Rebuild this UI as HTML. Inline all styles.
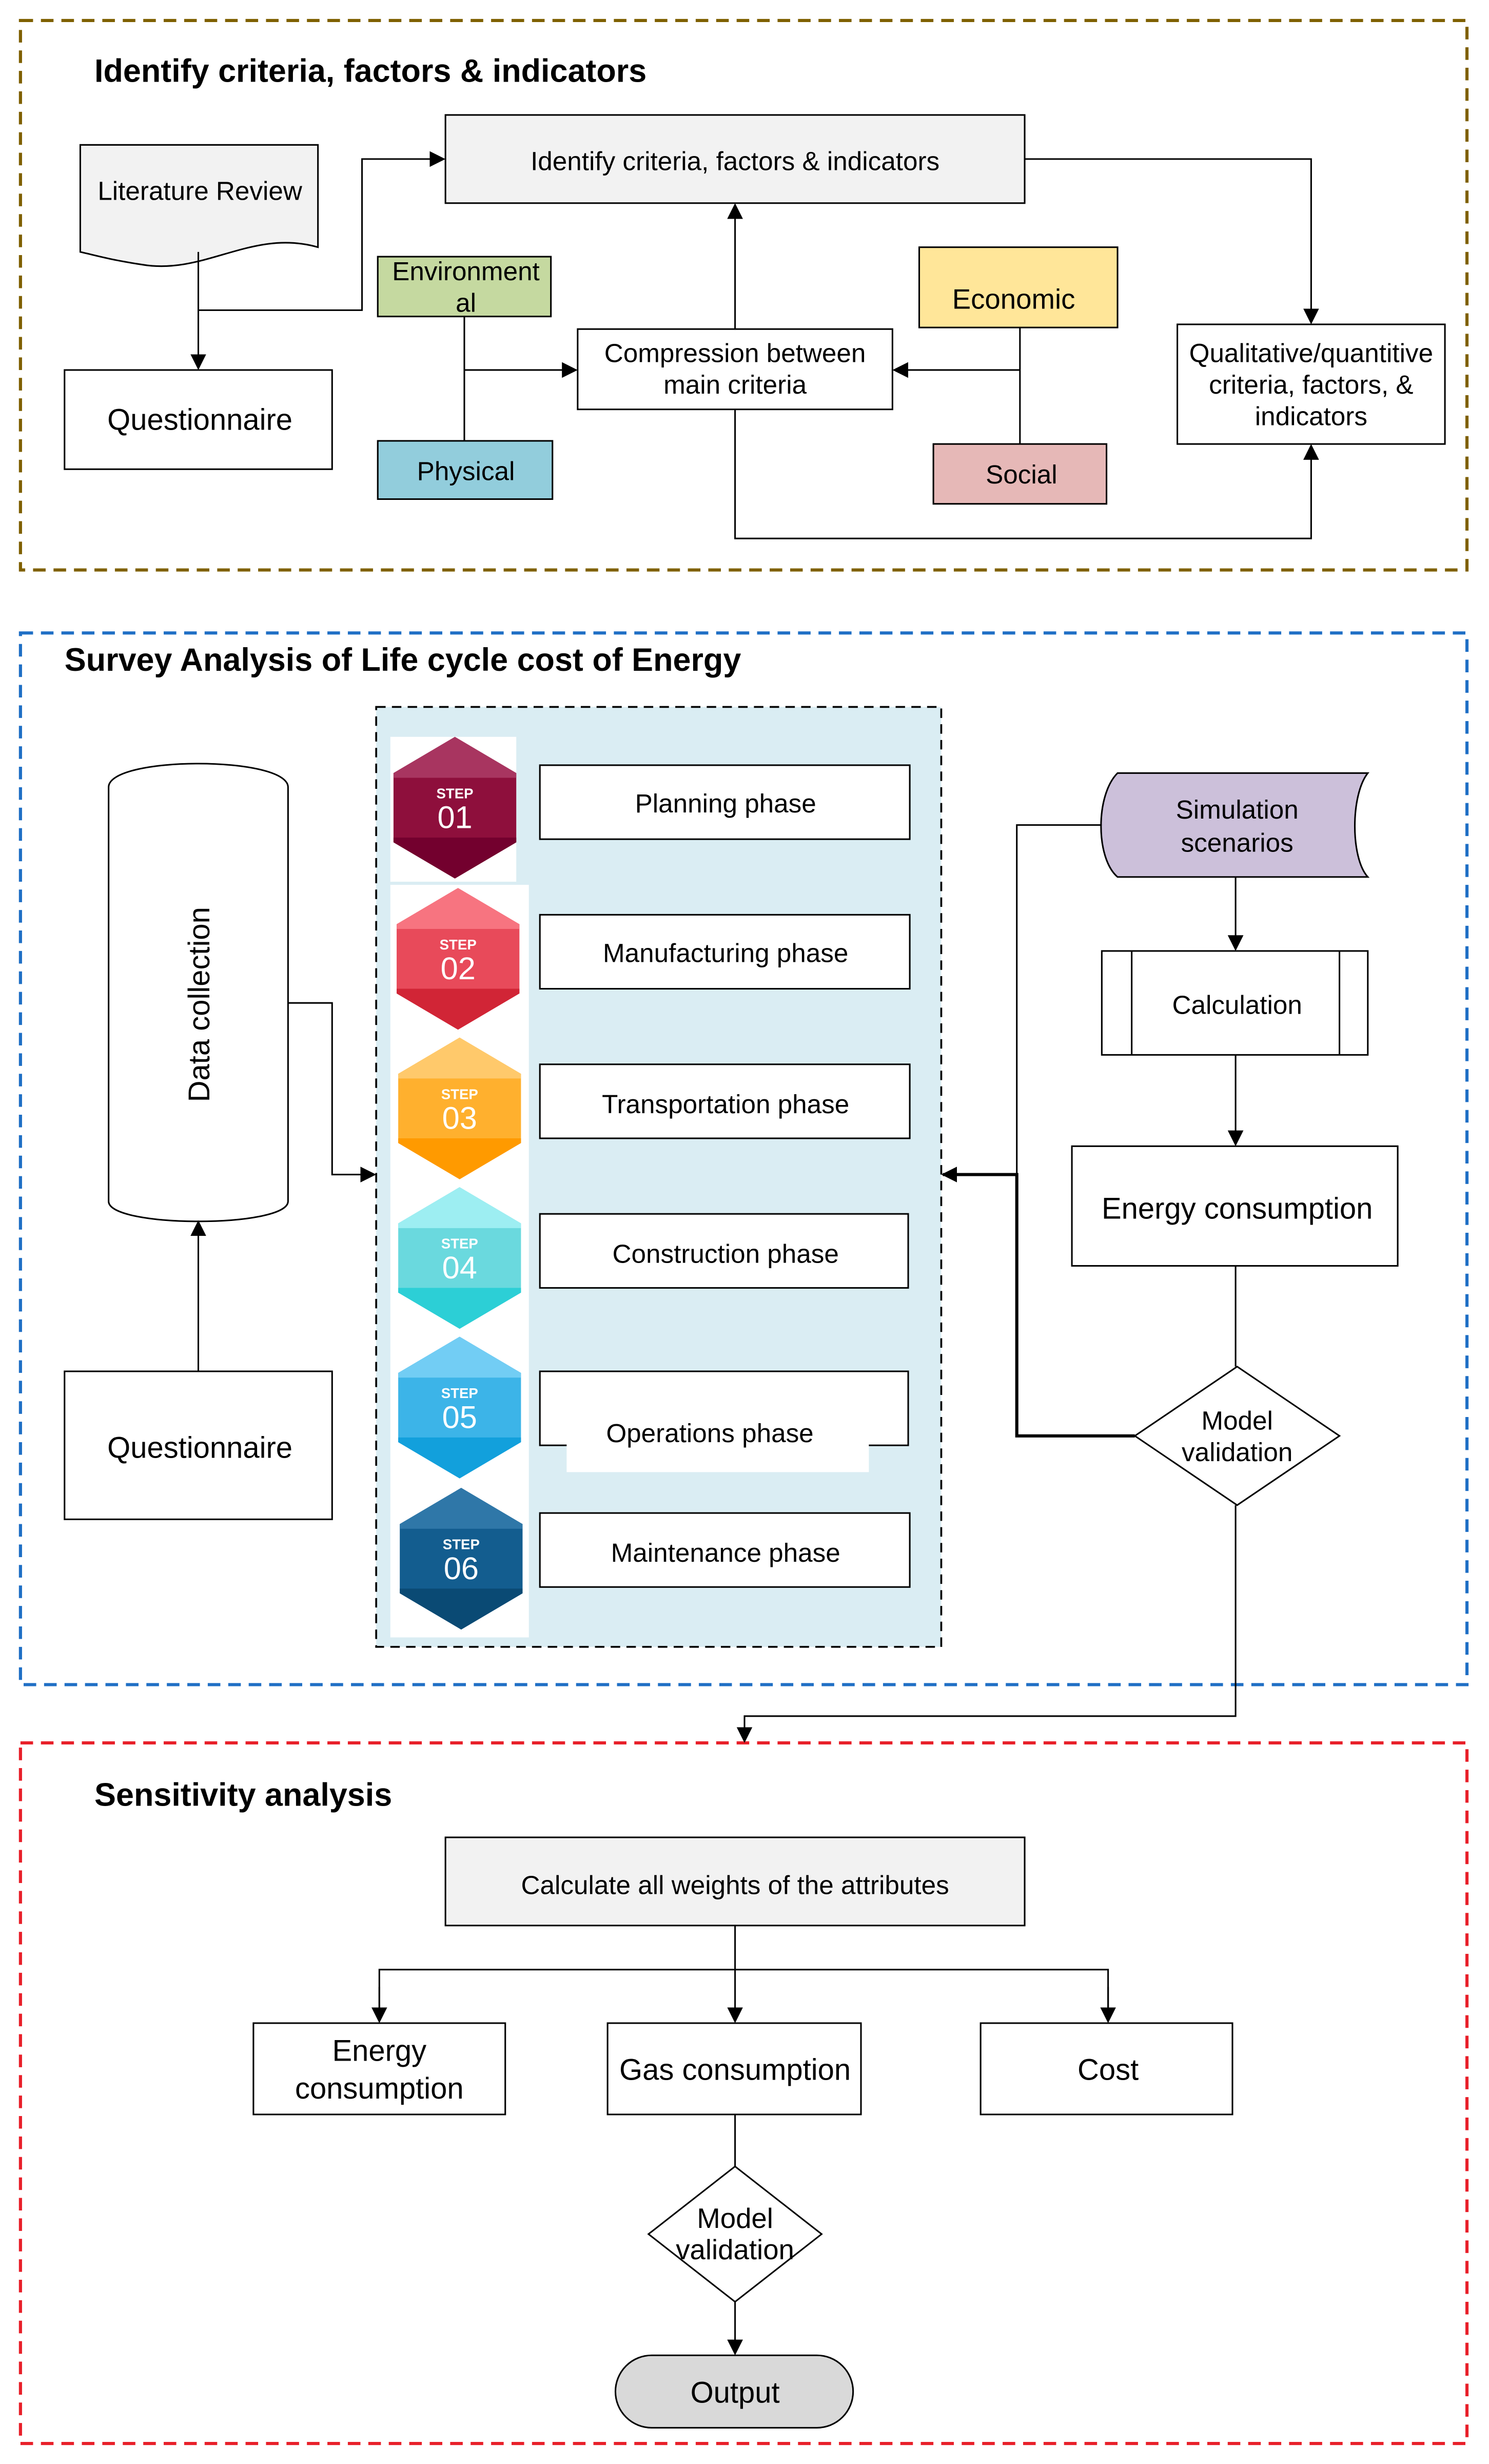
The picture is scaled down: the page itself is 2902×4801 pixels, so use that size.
<!DOCTYPE html>
<html><head><meta charset="utf-8"><style>
html,body{margin:0;padding:0;background:#fff}
svg{display:block}
text{font-family:"Liberation Sans",sans-serif;fill:#000}
</style></head><body>
<svg width="2902" height="4801" viewBox="0 0 946 1565" xmlns="http://www.w3.org/2000/svg">
<defs>
<marker id="a" markerWidth="10" markerHeight="10" refX="9" refY="5" orient="auto" markerUnits="userSpaceOnUse"><path d="M0,0 L10,5 L0,10 z" fill="#000"/></marker>
</defs>
<g fill="none" stroke-width="2" stroke-dasharray="8,5">
<rect x="13" y="13" width="919" height="349" stroke="#7f6000"/>
<rect x="13" y="402" width="919" height="668" stroke="#1f6fc5"/>
<rect x="13" y="1107" width="919" height="445" stroke="#e8202a"/>
</g>
<g font-weight="bold" font-size="20.5">
<text x="60" y="52">Identify criteria, factors &amp; indicators</text>
<text x="41" y="426">Survey Analysis of Life cycle cost of Energy</text>
<text x="60" y="1147">Sensitivity analysis</text>
</g>
<g stroke="#000" stroke-width="1" font-size="15">
<rect x="283" y="73" width="368" height="56" fill="#f2f2f2"/>
<path d="M51,92 H202 V157 C160,145 130,175 90,168 C70,165 60,162 51,160 Z" fill="#f2f2f2"/>
<rect x="41" y="235" width="170" height="63" fill="#fff"/>
<rect x="240" y="163" width="110" height="38" fill="#c5d9a0"/>
<rect x="240" y="280" width="111" height="37" fill="#92cddc"/>
<rect x="367" y="209" width="200" height="51" fill="#fff"/>
<rect x="584" y="157" width="126" height="51" fill="#ffe699"/>
<rect x="593" y="282" width="110" height="38" fill="#e6b8b7"/>
<rect x="748" y="206" width="170" height="76" fill="#fff"/>
<g fill="none">
<path d="M126,160 V234" marker-end="url(#a)"/>
<path d="M126,197 H230 V101 H282" marker-end="url(#a)"/>
<path d="M651,101 H833 V205" marker-end="url(#a)"/>
<path d="M467,209 V130" marker-end="url(#a)"/>
<path d="M295,201 V280"/>
<path d="M295,235 H366" marker-end="url(#a)"/>
<path d="M648,208 V282"/>
<path d="M648,235 H568" marker-end="url(#a)"/>
<path d="M467,260 V342 H833 V283" marker-end="url(#a)"/>
</g>
</g>
<g font-size="16.7" text-anchor="middle">
<text x="467" y="108">Identify criteria, factors &amp; indicators</text>
<text x="127" y="127">Literature Review</text>
<text x="127" y="273" font-size="18.9">Questionnaire</text>
<text x="296" y="178">Environment</text><text x="296" y="198">al</text>
<text x="296" y="305">Physical</text>
<text x="467" y="230">Compression between</text><text x="467" y="250">main criteria</text>
<text x="644" y="196" font-size="17.8">Economic</text>
<text x="649" y="307">Social</text>
<text x="833" y="230">Qualitative/quantitive</text><text x="833" y="250">criteria, factors, &amp;</text><text x="833" y="270">indicators</text>
</g>
<!-- section 2 -->
<rect x="239" y="449" width="359" height="597" fill="#daedf3" stroke="#000" stroke-width="1.2" stroke-dasharray="6,4"/>
<rect x="248" y="468" width="80" height="92" fill="#fff"/>
<rect x="248" y="562" width="88" height="478" fill="#fff"/>
<g text-anchor="middle">
<g transform="translate(289,513)"><polygon points="0,-45 39,-22 39,22 0,45 -39,22 -39,-22" fill="#8e0f3c"/><polygon points="0,-45 39,-22 39,-19 -39,-19 -39,-22" fill="#a83560"/><polygon points="0,45 39,22 39,19 -39,19 -39,22" fill="#73002e"/><text y="-6" font-size="9" font-weight="bold" style="fill:#fff">STEP</text><text y="13" font-size="20" style="fill:#fff">01</text></g>
<g transform="translate(291,609)"><polygon points="0,-45 39,-22 39,22 0,45 -39,22 -39,-22" fill="#e84a5a"/><polygon points="0,-45 39,-22 39,-19 -39,-19 -39,-22" fill="#f77480"/><polygon points="0,45 39,22 39,19 -39,19 -39,22" fill="#d12536"/><text y="-6" font-size="9" font-weight="bold" style="fill:#fff">STEP</text><text y="13" font-size="20" style="fill:#fff">02</text></g>
<g transform="translate(292,704)"><polygon points="0,-45 39,-22 39,22 0,45 -39,22 -39,-22" fill="#ffb02e"/><polygon points="0,-45 39,-22 39,-19 -39,-19 -39,-22" fill="#ffc96b"/><polygon points="0,45 39,22 39,19 -39,19 -39,22" fill="#ff9a00"/><text y="-6" font-size="9" font-weight="bold" style="fill:#fff">STEP</text><text y="13" font-size="20" style="fill:#fff">03</text></g>
<g transform="translate(292,799)"><polygon points="0,-45 39,-22 39,22 0,45 -39,22 -39,-22" fill="#6ad9de"/><polygon points="0,-45 39,-22 39,-19 -39,-19 -39,-22" fill="#9deef2"/><polygon points="0,45 39,22 39,19 -39,19 -39,22" fill="#2ccfd6"/><text y="-6" font-size="9" font-weight="bold" style="fill:#fff">STEP</text><text y="13" font-size="20" style="fill:#fff">04</text></g>
<g transform="translate(292,894)"><polygon points="0,-45 39,-22 39,22 0,45 -39,22 -39,-22" fill="#3cb4e8"/><polygon points="0,-45 39,-22 39,-19 -39,-19 -39,-22" fill="#72cdf4"/><polygon points="0,45 39,22 39,19 -39,19 -39,22" fill="#12a0dc"/><text y="-6" font-size="9" font-weight="bold" style="fill:#fff">STEP</text><text y="13" font-size="20" style="fill:#fff">05</text></g>
<g transform="translate(293,990)"><polygon points="0,-45 39,-22 39,22 0,45 -39,22 -39,-22" fill="#135d8f"/><polygon points="0,-45 39,-22 39,-19 -39,-19 -39,-22" fill="#2f77a8"/><polygon points="0,45 39,22 39,19 -39,19 -39,22" fill="#0a4a74"/><text y="-6" font-size="9" font-weight="bold" style="fill:#fff">STEP</text><text y="13" font-size="20" style="fill:#fff">06</text></g>
</g>
<g stroke="#000" stroke-width="1" fill="#fff">
<rect x="343" y="486" width="235" height="47"/>
<rect x="343" y="581" width="235" height="47"/>
<rect x="343" y="676" width="235" height="47"/>
<rect x="343" y="771" width="234" height="47"/>
<rect x="343" y="871" width="234" height="47"/>
<rect x="343" y="961" width="235" height="47"/>
</g>
<rect x="360" y="890" width="192" height="45" fill="#fff"/>
<g font-size="16.7" text-anchor="middle">
<text x="461" y="516">Planning phase</text>
<text x="461" y="611">Manufacturing phase</text>
<text x="461" y="707">Transportation phase</text>
<text x="461" y="802">Construction phase</text>
<text x="451" y="916">Operations phase</text>
<text x="461" y="992">Maintenance phase</text>
</g>
<g stroke="#000" stroke-width="1">
<path d="M69,500 C69,480 183,480 183,500 V763 C183,780 69,780 69,763 Z" fill="#fff"/>
<rect x="41" y="871" width="170" height="94" fill="#fff"/>
<path d="M710,491 H869 C858,505 858,545 869,557 H710 C696,545 696,505 710,491 Z" fill="#ccc0da"/>
<rect x="700" y="604" width="169" height="66" fill="#fff"/>
<path d="M719,604 V670 M851,604 V670" fill="none"/>
<rect x="681" y="728" width="207" height="76" fill="#fff"/>
<polygon points="786,868 851,912 786,956 721,912" fill="#fff"/>
<g fill="none">
<path d="M126,871 V776" marker-end="url(#a)"/>
<path d="M183,637 H211 V746 H238" marker-end="url(#a)"/>
<path d="M785,557 V603" marker-end="url(#a)"/>
<path d="M785,670 V727" marker-end="url(#a)"/>
<path d="M785,804 V868"/>
<path d="M700,524 H646 V746"/>
<path d="M721,912 H646 V746 H599" stroke-width="2" marker-end="url(#a)"/>
<path d="M785,956 V1090 H473 V1106" marker-end="url(#a)"/>
</g>
</g>
<text transform="translate(133,638) rotate(-90)" text-anchor="middle" font-size="18.9">Data collection</text>
<g font-size="16.7" text-anchor="middle">
<text x="127" y="926" font-size="18.9">Questionnaire</text>
<text x="786" y="520">Simulation</text><text x="786" y="541">scenarios</text>
<text x="786" y="644">Calculation</text>
<text x="786" y="774" font-size="18.9">Energy consumption</text>
<text x="786" y="908">Model</text><text x="786" y="928">validation</text>
</g>
<!-- section 3 -->
<g stroke="#000" stroke-width="1">
<rect x="283" y="1167" width="368" height="56" fill="#f2f2f2"/>
<rect x="161" y="1285" width="160" height="58" fill="#fff"/>
<rect x="386" y="1285" width="161" height="58" fill="#fff"/>
<rect x="623" y="1285" width="160" height="58" fill="#fff"/>
<polygon points="467,1376 522,1419 467,1462 412,1419" fill="#fff"/>
<rect x="391" y="1496" width="151" height="46" rx="23" fill="#d9d9d9"/>
<g fill="none">
<path d="M467,1223 V1284" marker-end="url(#a)"/>
<path d="M241,1284 V1251 H704 V1284" />
<path d="M241,1262 V1284" marker-end="url(#a)"/>
<path d="M704,1262 V1284" marker-end="url(#a)"/>
<path d="M467,1343 V1376"/>
<path d="M467,1462 V1495" marker-end="url(#a)"/>
</g>
</g>
<g font-size="17.8" text-anchor="middle">
<text x="467" y="1203" font-size="16.7">Calculate all weights of the attributes</text>
<text x="241" y="1309" font-size="18.9">Energy</text><text x="241" y="1333" font-size="18.9">consumption</text>
<text x="467" y="1321" font-size="18.9">Gas consumption</text>
<text x="704" y="1321" font-size="18.9">Cost</text>
<text x="467" y="1415">Model</text><text x="467" y="1435">validation</text>
<text x="467" y="1526" font-size="18.9">Output</text>
</g>
</svg>
</body></html>
